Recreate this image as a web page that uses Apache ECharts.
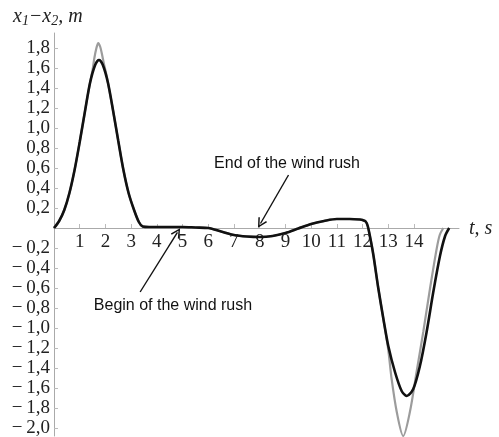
<!DOCTYPE html>
<html>
<head>
<meta charset="utf-8">
<script src="https://cdn.jsdelivr.net/npm/echarts@6/dist/echarts.min.js"></script>
<style>html,body{margin:0;padding:0;background:#fff}#c{width:499px;height:437px}</style>
</head>
<body>
<div id="c"></div>
<script>
// time, s
const tBlack = [0,0.2,0.4,0.6,0.8,1.0,1.2,1.4,1.6,1.75,1.9,2.1,2.3,2.5,2.7,2.9,3.1,3.3,3.45,3.7,4,5,5.5,6,6.5,7,7.5,8,8.5,9,9.5,10,10.5,11,11.5,11.9,12.0,12.12,12.2,12.3,12.42,12.61,12.81,13.0,13.26,13.52,13.72,13.97,14.23,14.49,14.75,15.01,15.21,15.37];
const vBlack = [0,0.07,0.18,0.35,0.58,0.86,1.16,1.45,1.63,1.68,1.63,1.45,1.17,0.87,0.58,0.35,0.19,0.06,0.015,0.01,0.01,0.01,0.005,0,-0.035,-0.07,-0.085,-0.09,-0.08,-0.05,-0.005,0.04,0.07,0.09,0.09,0.085,0.08,0.065,0.02,-0.1,-0.27,-0.6,-0.91,-1.18,-1.44,-1.63,-1.68,-1.61,-1.38,-1.04,-0.64,-0.28,-0.08,0];
const tGray = [0,0.2,0.4,0.6,0.8,1.0,1.2,1.4,1.5,1.57,1.65,1.72,1.8,1.88,1.96,2.05,2.1,2.3,2.5,2.7,2.9,3.1,3.3,3.45,3.7,4,5,5.5,6,6.5,7,7.5,8,8.5,9,9.5,10,10.5,11,11.5,11.9,12.0,12.12,12.2,12.3,12.42,12.61,12.81,13.0,13.13,13.33,13.58,13.84,14.1,14.36,14.62,14.88,15.0,15.14];
const vGray = [0,0.07,0.18,0.35,0.58,0.86,1.16,1.45,1.58,1.7,1.8,1.85,1.81,1.72,1.62,1.52,1.45,1.17,0.87,0.58,0.35,0.19,0.06,0.015,0.01,0.01,0.01,0.005,0,-0.035,-0.07,-0.085,-0.09,-0.08,-0.05,-0.005,0.04,0.07,0.09,0.09,0.085,0.08,0.065,0.02,-0.1,-0.27,-0.6,-0.91,-1.22,-1.51,-1.84,-2.08,-1.84,-1.44,-1.04,-0.61,-0.21,-0.07,0];
const xTicks = [1,2,3,4,5,6,7,8,9,10,11,12,13,14];
const yTicks = [-2.0,-1.8,-1.6,-1.4,-1.2,-1.0,-0.8,-0.6,-0.4,-0.2,0.2,0.4,0.6,0.8,1.0,1.2,1.4,1.6,1.8];
// annotations: text, arrow start [t, v], arrow end [t, v]
const annoText = ['End of the wind rush', 'Begin of the wind rush'];
const annoFrom = [[9.12, 0.53], [3.35, -0.64]];
const annoTo = [[8.03, 0.045], [4.8, -0.044]];

const zip = (a, b) => a.map((x, i) => [x, b[i]]);
const fmtY = v => {
  const s = Math.abs(v).toFixed(1).replace('.', ',');
  return v < 0 ? '\u2212\u2009' + s : s;
};
const serif = '"Liberation Serif", "Times New Roman", serif';
const sans = '"Liberation Sans", Arial, sans-serif';
const chevron = 'path://M0,10 L5,0 L10,10 L8.6,10.6 L5,3.2 L1.4,10.6 Z';

const Y_MIN = -2.08, Y_MAX = 1.95, GRID_TOP = 33, GRID_H = 403;
const zeroOffset = -(GRID_H * (0 - Y_MIN) / (Y_MAX - Y_MIN));

const chart = echarts.init(document.getElementById('c'), null, {renderer: 'canvas'});
chart.setOption({
  animation: false,
  backgroundColor: '#fff',
  grid: {left: 54, top: GRID_TOP, width: 405, height: GRID_H, containLabel: false, outerBoundsMode: 'none'},
  xAxis: {
    type: 'value', min: 0, max: 15.75, offset: zeroOffset,
    axisLine: {onZero: false, lineStyle: {color: '#aaa', width: 1}},
    axisTick: {inside: true, length: 4, lineStyle: {color: '#bbb'}, customValues: xTicks},
    axisLabel: {customValues: xTicks, margin: 5, color: '#222', fontFamily: serif, fontSize: 19,
      formatter: v => String(v)},
    splitLine: {show: false}
  },
  yAxis: {
    type: 'value', min: Y_MIN, max: Y_MAX,
    axisLine: {show: true, onZero: false, lineStyle: {color: '#aaa', width: 1}},
    axisTick: {show: true, inside: true, length: 4, lineStyle: {color: '#bbb'}, customValues: yTicks},
    axisLabel: {customValues: yTicks, margin: 4, color: '#222', fontFamily: serif, fontSize: 19,
      formatter: fmtY},
    splitLine: {show: false}
  },
  series: [
    {
      type: 'line', data: zip(tGray, vGray), smooth: 0.3, symbol: 'none', clip: false,
      lineStyle: {color: '#9c9c9c', width: 2.2}, z: 2
    },
    {
      type: 'line', data: zip(tBlack, vBlack), smooth: 0.3, symbol: 'none', clip: false,
      lineStyle: {color: '#111', width: 2.6}, z: 3,
      markLine: {
        silent: true, symbol: ['none', chevron], symbolSize: 10,
        label: {show: false},
        lineStyle: {color: '#111', width: 1.4, type: 'solid'},
        data: annoFrom.map((f, i) => [{coord: f}, {coord: annoTo[i]}])
      }
    }
  ],
  graphic: [
    {type: 'text', left: 13, top: 7, style: {
      text: '{a|x}{s|1}{a|\u2212x}{s|2}{a|, m}',
      rich: {
        a: {fontFamily: serif, fontStyle: 'italic', fontSize: 20, lineHeight: 22, fill: '#222'},
        s: {fontFamily: serif, fontStyle: 'italic', fontSize: 14, lineHeight: 10, verticalAlign: 'bottom', fill: '#222'}
      }
    }},
    {type: 'text', left: 469, top: 219, style: {
      text: 't, s', fontFamily: serif, fontStyle: 'italic', fontSize: 20, fill: '#222'
    }},
    {type: 'text', x: 287, y: 164, style: {
      text: annoText[0], fontFamily: sans, fontSize: 16, fill: '#111', align: 'center', verticalAlign: 'middle'
    }},
    {type: 'text', x: 173, y: 306, style: {
      text: annoText[1], fontFamily: sans, fontSize: 16, fill: '#111', align: 'center', verticalAlign: 'middle'
    }}
  ]
});
</script>
</body>
</html>
